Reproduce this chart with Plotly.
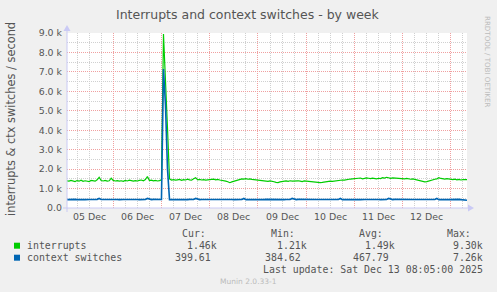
import pandas as pd
import plotly.graph_objects as go

# ---------------- data ----------------
start_time = "2025-12-05 01:00"
n_points = 200  # hourly samples
interrupts = [
    1400,1380,1420,1390,1360,1410,1380,1430,1370,1400,1390,1360,1420,1400,1380,1450,1580,1410,1390,1420,1380,1400,1530,
    1420,1390,1410,1380,1400,1370,1420,1390,1430,1400,1380,1410,1390,1420,1440,1400,1460,1620,1410,1430,1400,1420,1390,1410,
    1450,8950,6900,4100,1500,1440,1460,1430,1450,1470,1420,1460,1440,1480,1450,1430,1500,1560,1450,1470,1440,1460,1430,1450,
    1470,1460,1480,1450,1470,1440,1430,1410,1380,1350,1300,1340,1380,1420,1450,1480,1500,1490,1510,1480,1500,1470,1460,1450,
    1420,1400,1390,1380,1400,1370,1390,1380,1350,1320,1310,1340,1360,1380,1390,1370,1400,1380,1390,1370,1400,1380,1360,1390,
    1380,1360,1340,1330,1320,1310,1300,1310,1320,1340,1350,1360,1380,1370,1390,1400,1410,1420,1440,1430,1460,1470,1490,1500,
    1520,1510,1530,1540,1500,1520,1550,1530,1510,1540,1520,1500,1530,1510,1560,1540,1580,1530,1520,1550,1540,1510,1530,1520,
    1510,1500,1520,1490,1480,1500,1470,1440,1400,1370,1350,1340,1360,1400,1430,1460,1480,1500,1560,1520,1500,1490,1510,1480,
    1470,1460,1480,1450,1470,1440,1460,1450,1460,
]
context_switches = [
    430,440,435,440,445,430,440,435,440,430,445,440,435,440,430,445,490,440,435,440,430,440,445,
    440,435,440,430,445,440,435,440,430,440,445,435,440,430,440,445,435,490,440,430,445,440,435,440,
    440,7150,5300,2000,430,440,435,440,445,430,440,435,440,430,445,440,435,490,440,430,440,445,435,440,
    435,440,430,445,440,435,440,430,440,445,435,440,430,440,445,435,440,490,430,440,435,445,440,430,
    440,435,440,430,445,440,435,440,430,440,445,435,440,430,440,445,435,490,440,430,445,440,435,440,
    435,440,430,445,440,435,440,430,440,445,435,440,430,440,445,435,440,490,430,440,435,445,440,430,
    440,435,440,430,445,440,435,440,430,440,445,435,440,430,440,445,435,490,440,430,445,440,435,440,
    435,440,430,445,440,435,440,430,440,445,435,440,430,440,445,435,440,490,430,440,435,445,440,430,
    440,435,430,440,445,430,420,410,400,
]
x_range = ["2025-12-05 01:00", "2025-12-13 08:00"]
day_labels = ["05 Dec", "06 Dec", "07 Dec", "08 Dec", "09 Dec", "10 Dec", "11 Dec", "12 Dec"]
label_dates = ["2025-12-05 12:00", "2025-12-06 12:00", "2025-12-07 12:00", "2025-12-08 12:00",
               "2025-12-09 12:00", "2025-12-10 12:00", "2025-12-11 12:00", "2025-12-12 12:00"]
midnights = ["2025-12-06", "2025-12-07", "2025-12-08", "2025-12-09",
             "2025-12-10", "2025-12-11", "2025-12-12", "2025-12-13"]
y_tickvals = [0, 1000, 2000, 3000, 4000, 5000, 6000, 7000, 8000, 9000]
y_ticktext = ["0.0", "1.0 k", "2.0 k", "3.0 k", "4.0 k", "5.0 k", "6.0 k", "7.0 k", "8.0 k", "9.0 k"]
legend_rows = [
    ("interrupts", "#00CC00", "1.46k", "1.21k", "1.49k", "9.30k"),
    ("context switches", "#0066B3", "399.61", "384.62", "467.79", "7.26k"),
]
last_update = "Last update: Sat Dec 13 08:05:00 2025"

times = pd.date_range(start_time, periods=n_points, freq="h")

# ---------------- figure ----------------
W, H = 497, 292
L, R, T, B = 67, 30, 33, 84
PW, PH = W - L - R, H - T - B

def px(x):
    return (x - L) / PW

def py(y):
    return (H - B - y) / PH

fig = go.Figure()
fig.add_trace(go.Scatter(x=times, y=interrupts, mode="lines",
                         line=dict(color="#00CC00", width=1.2), name="interrupts"))
fig.add_trace(go.Scatter(x=times, y=context_switches, mode="lines",
                         line=dict(color="#0066B3", width=1.6), name="context switches"))

RED = "#F0A0A0"
GREY = "#D0D0D0"
fig.update_layout(
    width=W, height=H, margin=dict(l=L, r=R, t=T, b=B),
    paper_bgcolor="#F0F0F0", plot_bgcolor="white", showlegend=False,
    font=dict(family="DejaVu Sans", color="#555555"),
    xaxis=dict(type="date", range=x_range, tickmode="array", tickvals=midnights,
               showticklabels=False, ticks="", showgrid=True, gridcolor=RED,
               griddash="1px,1px", gridwidth=1, zeroline=False, showline=False,
               minor=dict(tickmode="linear", tick0="2025-12-05 00:00", dtick=6 * 3600 * 1000,
                          showgrid=True, gridcolor=GREY, griddash="1px,1px", ticks="")),
    yaxis=dict(range=[0, 9000], tickmode="array", tickvals=y_tickvals, ticktext=y_ticktext,
               showgrid=True, gridcolor=RED, griddash="1px,1px", zeroline=False,
               showline=False, ticks="", ticklabelstandoff=4,
               tickfont=dict(family="DejaVu Sans", size=9.4, color="#555555"),
               minor=dict(tickmode="linear", tick0=0, dtick=500, showgrid=True,
                          gridcolor=GREY, griddash="1px,1px", ticks="")),
)

AX = "#CACAF5"
shapes = [
    dict(type="line", xref="paper", yref="paper", x0=px(63), x1=px(469), y0=0, y1=0,
         line=dict(color=AX, width=1), layer="above"),
    dict(type="line", xref="paper", yref="paper", x0=0, x1=0, y0=py(212), y1=py(29),
         line=dict(color=AX, width=1), layer="above"),
    dict(type="path", xref="paper", yref="paper",
         path=f"M {px(468)} {py(204.5)} L {px(474)} {py(208)} L {px(468)} {py(211.5)} Z",
         fillcolor=AX, line=dict(color=AX, width=0), layer="above"),
    dict(type="path", xref="paper", yref="paper",
         path=f"M {px(63.5)} {py(31)} L {px(67)} {py(25)} L {px(70.5)} {py(31)} Z",
         fillcolor=AX, line=dict(color=AX, width=0), layer="above"),
]

annotations = []

def ann(x, y, text, xanchor="left", size=9.9, color="#555555", family="DejaVu Sans Mono",
        textangle=0, xref="paper"):
    annotations.append(dict(x=x, y=y, xref=xref, yref="paper", text=text, showarrow=False,
                            xanchor=xanchor, yanchor="middle", textangle=textangle,
                            borderpad=0, borderwidth=0,
                            font=dict(family=family, size=size, color=color)))

# x tick labels at noon
for d, lab in zip(label_dates, day_labels):
    ann(d, py(216), lab, xanchor="center", size=9.4, family="DejaVu Sans", xref="x")

# title & axis title & watermark
ann(px(248), py(14), "Interrupts and context switches - by week", xanchor="center",
    size=12.5, family="DejaVu Sans", color="#555555")
ann(px(11), py(119), "interrupts & ctx switches / second", xanchor="center",
    size=11.4, family="DejaVu Sans", textangle=-90)
ann(px(488), py(61), "RRDTOOL / TOBI OETIKER", xanchor="center", size=7.1,
    family="DejaVu Sans", color="#BBBBBB", textangle=90)
ann(px(248), py(281), "Munin 2.0.33-1", xanchor="center", size=7.5,
    family="DejaVu Sans", color="#BBBBBB")

# legend header
ann(px(182), py(233.3), "Cur:")
ann(px(271), py(233.3), "Min:")
ann(px(359), py(233.3), "Avg:")
ann(px(447), py(233.3), "Max:")

row_y = [245.7, 257.7]
for (name, col, cur, mn, avg, mx), yy in zip(legend_rows, row_y):
    shapes.append(dict(type="rect", xref="paper", yref="paper",
                       x0=px(14), x1=px(20), y0=py(yy - 3), y1=py(yy + 3),
                       fillcolor=col, line=dict(width=0)))
    ann(px(26.7), py(yy), name)
    off = 0 if cur.endswith("k") else 6
    ann(px(217 - off), py(yy), cur, xanchor="right")
    off = 0 if mn.endswith("k") else 6
    ann(px(307 - off), py(yy), mn, xanchor="right")
    off = 0 if avg.endswith("k") else 6
    ann(px(395 - off), py(yy), avg, xanchor="right")
    off = 0 if mx.endswith("k") else 6
    ann(px(483 - off), py(yy), mx, xanchor="right")

ann(px(483), py(269.3), last_update, xanchor="right")

fig.update_layout(shapes=shapes, annotations=annotations)
fig.write_html("out.html")
